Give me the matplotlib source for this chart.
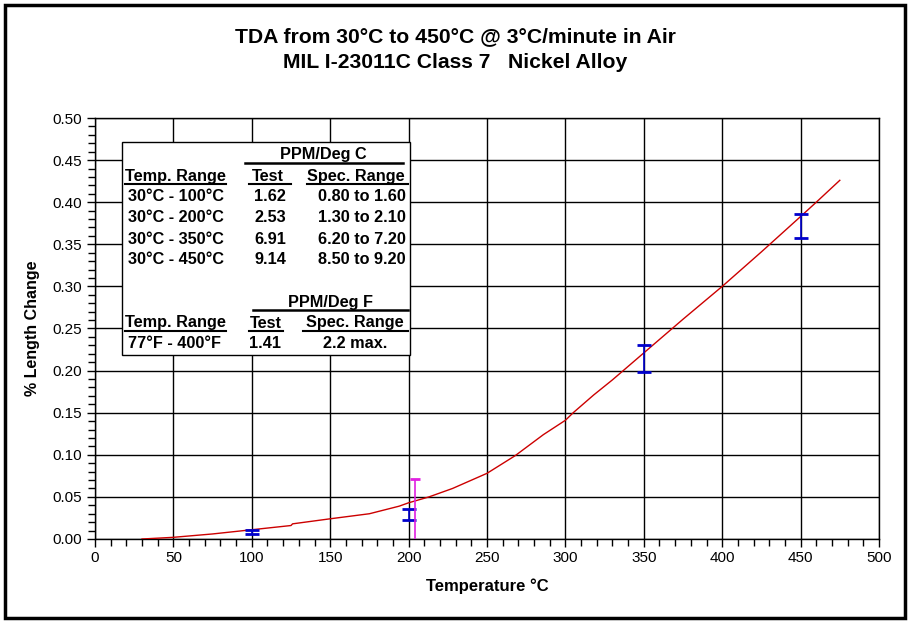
import numpy as np
import matplotlib
matplotlib.use('Agg')
import matplotlib.pyplot as plt
from matplotlib.patches import Rectangle
from matplotlib.lines import Line2D
from matplotlib.ticker import MultipleLocator, FormatStrFormatter

plt.rcParams['font.family'] = ['Liberation Sans', 'DejaVu Sans']

# measured curve (% length change vs temperature)
temp = [30, 50, 75, 100, 125, 126, 150, 175, 194, 200, 213, 228, 250, 268, 286, 300, 305, 318, 330,
        350, 375, 400, 425, 450, 460, 475]
dl = [0.000, 0.002, 0.006, 0.011, 0.016, 0.018, 0.024, 0.030, 0.039, 0.043, 0.050, 0.060, 0.078, 0.099,
      0.124, 0.141, 0.150, 0.171, 0.189, 0.221, 0.261, 0.300, 0.341, 0.383, 0.400, 0.426]

# spec ranges (% length change)
spec_t = [100, 200, 350, 450]
spec_lo = [0.0056, 0.0221, 0.1984, 0.3570]
spec_hi = [0.0112, 0.0357, 0.2304, 0.3864]

# Fahrenheit spec (400 F, 2.2 ppm/F max)
spec_f_t = [204.4]
spec_f_lo = [0.0]
spec_f_hi = [0.071]

# table text
rows_c = ['30°C - 100°C', '30°C - 200°C', '30°C - 350°C', '30°C - 450°C']
test_c = ['1.62', '2.53', '6.91', '9.14']
range_c = ['0.80 to 1.60', '1.30 to 2.10', '6.20 to 7.20', '8.50 to 9.20']
rows_f = ['77°F - 400°F']
test_f = ['1.41']
range_f = ['2.2 max.']

W, H = 912, 625
fig = plt.figure(figsize=(W / 100, H / 100), dpi=100)
ax = fig.add_axes([95 / W, 1 - 539 / H, 784 / W, 421 / H])

ax.plot(temp, dl, color='#cc0000', lw=1, zorder=3)

lo = np.array(spec_lo); hi = np.array(spec_hi)
ax.errorbar(spec_t, (lo + hi) / 2, yerr=(hi - lo) / 2, fmt='none', ecolor='#0000cc',
            elinewidth=1.2, capsize=5, capthick=2, zorder=4)
# F spec: bar from 0 up to the max, cap only at the top
ax.vlines(spec_f_t, spec_f_lo, spec_f_hi, color='#e020e0', lw=1.2, zorder=4)
ax.plot(spec_f_t, spec_f_hi, ls='none', marker='_', ms=7, mew=2, color='#e020e0', zorder=4)

ax.set_xlim(0, 500)
ax.set_ylim(0, 0.5)
ax.xaxis.set_major_locator(MultipleLocator(50))
ax.xaxis.set_minor_locator(MultipleLocator(10))
ax.yaxis.set_major_locator(MultipleLocator(0.05))
ax.yaxis.set_minor_locator(MultipleLocator(0.01))
ax.yaxis.set_major_formatter(FormatStrFormatter('%.2f'))
ax.tick_params(which='major', direction='out', length=6, width=1, labelsize=11, colors='black', pad=3)
ax.tick_params(which='minor', direction='out', length=5, width=1)
ax.grid(True, which='major', color='black', lw=1)
ax.set_axisbelow(True)
for s in ax.spines.values():
    s.set_linewidth(1)

ax.set_xlabel('Temperature °C', fontsize=12, fontweight='bold', labelpad=9)
ax.set_ylabel('% Length Change', fontsize=11.5, fontweight='bold', labelpad=9)

fig.text(455 / W, 1 - 37 / H, 'TDA from 30°C to 450°C @ 3°C/minute in Air', ha='center', va='center',
         fontsize=15.2, fontweight='bold')
fig.text(455 / W, 1 - 63 / H, 'MIL I-23011C Class 7   Nickel Alloy', ha='center', va='center',
         fontsize=15.2, fontweight='bold')

# outer border
fig.add_artist(Rectangle((5 / W, 1 - 618 / H), 900 / W, 613 / H, transform=fig.transFigure,
                         fill=False, ec='black', lw=2.5))


def ftxt(x, y, s, ha='left'):
    fig.text(x / W, 1 - y / H, s, ha=ha, va='center', fontsize=11.7, fontweight='bold', zorder=6)


def fline(x0, x1, y, lw=1.5):
    fig.add_artist(Line2D([x0 / W, x1 / W], [1 - y / H, 1 - y / H], transform=fig.transFigure,
                          color='black', lw=lw, zorder=6))


# table box
fig.add_artist(Rectangle((122 / W, 1 - 355 / H), 288 / W, 213 / H, transform=fig.transFigure,
                         fc='white', ec='black', lw=1, zorder=5))

ftxt(323, 155, 'PPM/Deg C', 'center')
fline(245, 403, 163, 1.8)
ftxt(125, 176, 'Temp. Range')
fline(125, 226, 184)
ftxt(268, 176, 'Test', 'center')
fline(249, 291, 184)
ftxt(356, 176, 'Spec. Range', 'center')
fline(307, 408, 184)
for i in range(len(rows_c)):
    y = 197 + 21 * i
    ftxt(128, y, rows_c[i])
    ftxt(286, y, test_c[i], 'right')
    ftxt(406, y, range_c[i], 'right')

ftxt(330, 302, 'PPM/Deg F', 'center')
fline(253, 408, 310, 1.8)
ftxt(125, 323, 'Temp. Range')
fline(125, 226, 331)
ftxt(266, 323, 'Test', 'center')
fline(249, 283, 331)
ftxt(355, 323, 'Spec. Range', 'center')
fline(303, 408, 331)
for i in range(len(rows_f)):
    y = 344 + 21 * i
    ftxt(128, y, rows_f[i])
    ftxt(265, y, test_f[i], 'center')
    ftxt(355, y, range_f[i], 'center')

fig.savefig('out.png', dpi=100)
